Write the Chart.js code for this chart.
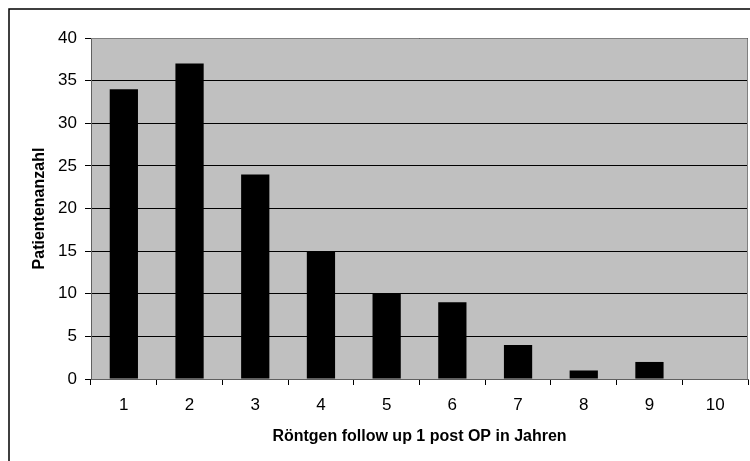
<!DOCTYPE html>
<html>
<head>
<meta charset="utf-8">
<script src="https://cdn.jsdelivr.net/npm/chart.js@4/dist/chart.umd.min.js"></script>
<style>
  html, body { margin: 0; padding: 0; background: #fff; }
  #wrap { width: 750px; height: 461px; position: relative; }
</style>
</head>
<body>
<div id="wrap"><canvas id="c" width="750" height="461"></canvas></div>
<script>
const categories = ['1', '2', '3', '4', '5', '6', '7', '8', '9', '10'];
const patientCounts = [34, 37, 24, 15, 10, 9, 4, 1, 2, 0];
const yTickValues = [0, 5, 10, 15, 20, 25, 30, 35, 40];
const xTitle = 'Röntgen follow up 1 post OP in Jahren';
const yTitle = 'Patientenanzahl';

const FONT = '"Liberation Sans", Arial, sans-serif';

const framePlugin = {
  id: 'frame',
  beforeDraw(chart) {
    const ctx = chart.ctx;
    const a = chart.chartArea;
    ctx.save();
    ctx.fillStyle = '#ffffff';
    ctx.fillRect(0, 0, chart.width, chart.height);
    ctx.strokeStyle = '#000000';
    ctx.lineWidth = 1.5;
    ctx.strokeRect(9, 9, 800, 500);
    ctx.fillStyle = '#C0C0C0';
    ctx.fillRect(a.left, a.top, a.right - a.left, a.bottom - a.top);
    ctx.restore();
  },
  afterDraw(chart) {
    const ctx = chart.ctx;
    const a = chart.chartArea;
    ctx.save();
    ctx.strokeStyle = '#808080';
    ctx.lineWidth = 1;
    ctx.beginPath();
    ctx.moveTo(a.left, a.top + 0.5);
    ctx.lineTo(a.right - 0.5, a.top + 0.5);
    ctx.lineTo(a.right - 0.5, a.bottom);
    ctx.stroke();
    ctx.restore();
  }
};

new Chart(document.getElementById('c'), {
  type: 'bar',
  data: {
    labels: categories,
    datasets: [{
      data: patientCounts,
      backgroundColor: '#000000',
      borderWidth: 0,
      categoryPercentage: 1.0,
      barPercentage: 0.43
    }]
  },
  plugins: [framePlugin],
  options: {
    responsive: false,
    animation: false,
    devicePixelRatio: 1,
    layout: { padding: { top: 38, right: 2, left: 30, bottom: 15 } },
    plugins: {
      legend: { display: false },
      tooltip: { enabled: false }
    },
    scales: {
      x: {
        offset: true,
        grid: {
          offset: true,
          drawOnChartArea: false,
          drawTicks: true,
          tickLength: 6,
          color: '#000000',
          lineWidth: 1
        },
        border: { color: '#606060', width: 1 },
        ticks: {
          color: '#000000',
          font: { family: FONT, size: 17 },
          padding: 10,
          maxRotation: 0
        },
        title: {
          display: true,
          text: xTitle,
          color: '#000000',
          font: { family: FONT, size: 16, weight: 'bold' },
          padding: { top: 10, bottom: 0 }
        },
        afterFit(scale) { scale.height = 67; }
      },
      y: {
        min: 0,
        max: 40,
        afterBuildTicks(scale) { scale.ticks = yTickValues.map(v => ({ value: v })); },
        grid: {
          color: '#000000',
          lineWidth: 1,
          tickLength: 6,
          drawTicks: true
        },
        border: { color: '#606060', width: 1 },
        ticks: {
          color: '#000000',
          font: { family: FONT, size: 17 },
          padding: 8
        },
        title: {
          display: true,
          text: yTitle,
          color: '#000000',
          font: { family: FONT, size: 16, weight: 'bold' },
          padding: { top: 0, bottom: 0 }
        },
        afterFit(scale) { scale.width = 61; }
      }
    }
  }
});
</script>
</body>
</html>
